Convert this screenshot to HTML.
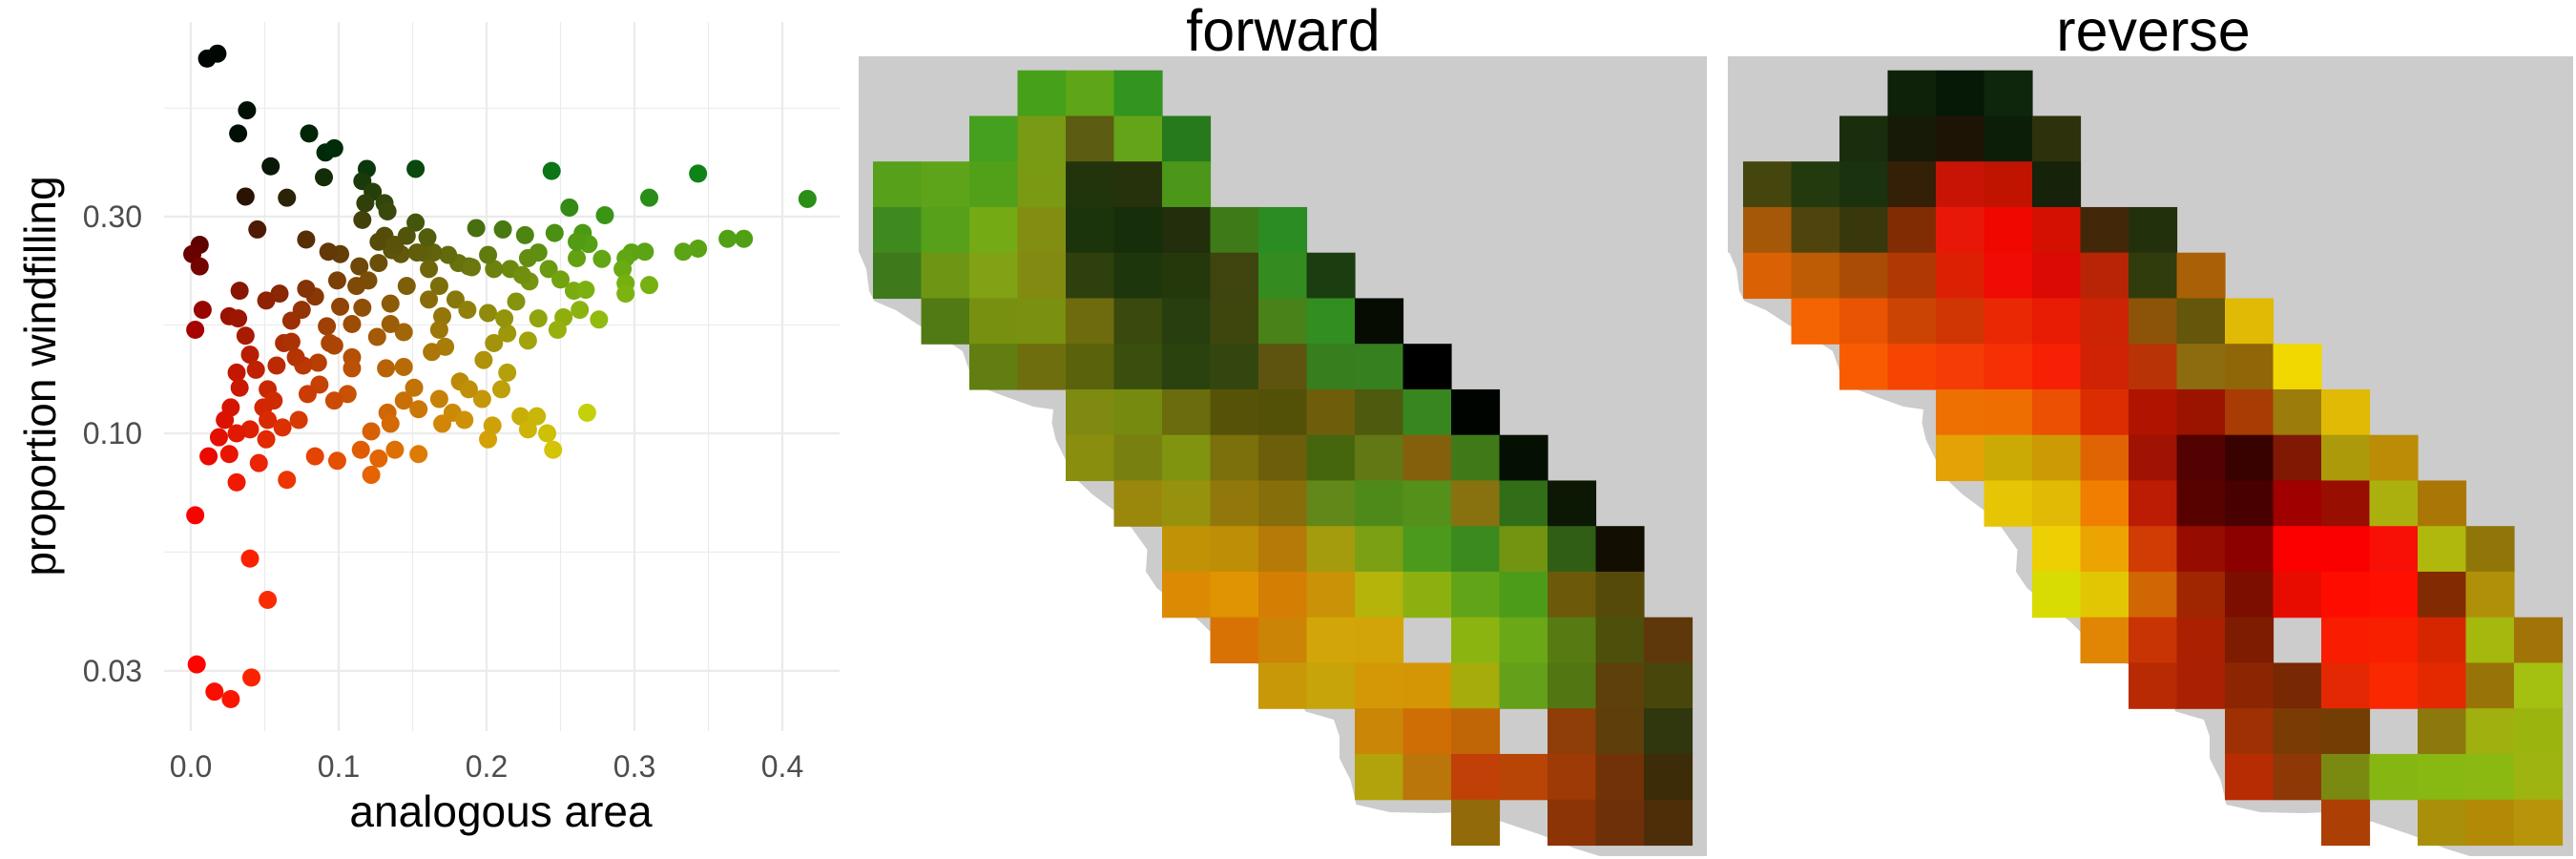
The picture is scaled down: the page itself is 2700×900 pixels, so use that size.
<!DOCTYPE html>
<html><head><meta charset="utf-8"><style>
html,body{margin:0;padding:0;background:#fff;}
svg{display:block;font-family:"Liberation Sans",Arial,sans-serif;}
</style></head><body>
<svg id="fig" width="2700" height="900" viewBox="0 0 2700 900" xmlns="http://www.w3.org/2000/svg">
<g id="scatter"></g>
<g id="fwd"></g>
<g id="rev"></g>
<text x="1345" y="53" font-size="61" text-anchor="middle" fill="#000">forward</text>
<text x="2257" y="53" font-size="61" text-anchor="middle" fill="#000">reverse</text>
<text x="525" y="866" font-size="46" text-anchor="middle" fill="#000">analogous area</text>
<text transform="translate(58,394) rotate(-90)" font-size="46" text-anchor="middle" fill="#000">proportion windfilling</text>
</svg>
<script>
const xTicks = [0, 0.1, 0.2, 0.3, 0.4];
const xTickLabels = ["0.0", "0.1", "0.2", "0.3", "0.4"];
const yTicks = [0.03, 0.1, 0.3];
const yTickLabels = ["0.03", "0.10", "0.30"];
const areaVals = [0.011,0.018,0.038,0.032,0.080,0.091,0.097,0.054,0.090,0.119,0.152,0.037,0.065,0.116,0.123,0.131,0.118,0.133,0.116,0.244,0.343,0.310,0.417,0.256,0.280,0.045,0.078,0.006,0.001,0.006,0.152,0.193,0.211,0.226,0.246,0.265,0.269,0.363,0.374,0.343,0.333,0.307,0.298,0.294,0.278,0.261,0.292,0.294,0.310,0.294,0.259,0.267,0.276,0.263,0.252,0.248,0.235,0.228,0.268,0.223,0.234,0.228,0.241,0.245,0.201,0.204,0.197,0.182,0.188,0.210,0.214,0.198,0.205,0.214,0.201,0.212,0.220,0.229,0.216,0.235,0.242,0.205,0.201,0.188,0.181,0.174,0.164,0.157,0.160,0.142,0.136,0.127,0.114,0.120,0.112,0.099,0.101,0.093,0.131,0.146,0.161,0.168,0.161,0.179,0.187,0.170,0.168,0.172,0.163,0.144,0.135,0.135,0.116,0.101,0.109,0.097,0.109,0.109,0.126,0.132,0.144,0.151,0.144,0.154,0.168,0.177,0.185,0.170,0.133,0.135,0.122,0.115,0.127,0.138,0.154,0.122,0.099,0.084,0.106,0.097,0.087,0.079,0.086,0.076,0.071,0.063,0.068,0.092,0.094,0.068,0.075,0.084,0.078,0.060,0.051,0.033,0.026,0.032,0.037,0.008,0.003,0.040,0.044,0.031,0.033,0.058,0.052,0.056,0.049,0.052,0.062,0.051,0.073,0.040,0.027,0.023,0.019,0.031,0.026,0.012,0.046,0.031,0.065,0.003,0.040,0.052,0.004,0.016,0.027,0.041,0.146,0.153,0.127,0.138,0.190,0.224,0.228,0.250,0.261];
const windVals = [0.668,0.685,0.514,0.457,0.457,0.415,0.424,0.387,0.366,0.382,0.382,0.332,0.330,0.359,0.340,0.321,0.321,0.308,0.295,0.378,0.373,0.330,0.328,0.314,0.302,0.281,0.267,0.260,0.248,0.233,0.291,0.283,0.281,0.273,0.276,0.276,0.261,0.268,0.268,0.255,0.251,0.251,0.250,0.243,0.242,0.243,0.230,0.214,0.212,0.203,0.206,0.207,0.178,0.187,0.180,0.169,0.179,0.160,0.111,0.109,0.109,0.102,0.100,0.092,0.097,0.104,0.119,0.130,0.125,0.125,0.136,0.145,0.158,0.166,0.184,0.179,0.195,0.216,0.230,0.250,0.230,0.230,0.247,0.233,0.237,0.247,0.250,0.250,0.270,0.248,0.253,0.237,0.233,0.217,0.211,0.217,0.248,0.251,0.272,0.272,0.230,0.211,0.197,0.197,0.187,0.181,0.169,0.155,0.151,0.167,0.174,0.193,0.189,0.190,0.174,0.156,0.147,0.139,0.163,0.139,0.140,0.126,0.118,0.113,0.119,0.111,0.107,0.105,0.111,0.105,0.101,0.092,0.088,0.092,0.090,0.081,0.087,0.089,0.122,0.118,0.128,0.122,0.143,0.141,0.147,0.158,0.159,0.172,0.158,0.177,0.187,0.200,0.208,0.203,0.196,0.206,0.181,0.179,0.164,0.187,0.169,0.149,0.138,0.136,0.126,0.141,0.125,0.118,0.114,0.107,0.103,0.097,0.107,0.102,0.114,0.107,0.098,0.100,0.090,0.089,0.086,0.078,0.079,0.066,0.053,0.043,0.031,0.027,0.026,0.029,0.211,0.250,0.264,0.260,0.232,0.223,0.243,0.218,0.264];

const fwdStart = [3,2,0,0,0,1,2,4,4,5,6,6,7,8,10,10,12];
const fwdColors = [
"47a01a 5ea618 33941f",
"44a01e 789a14 5c5c12 63a418 267a1c",
"56a01a 5ea41a 52a01a 7a9a14 22340c 26320c 4c961a",
"3e8a1e 56a01a 74aa14 828e12 1c340c 162e0a 222e0c 3e7a18 2a8c22",
"3e7a1c 6e9614 80a214 828a12 2e400c 1e360c 24380c 40440e 348c20 1a3e10",
"527a14 78900f 7a9010 6e6a0e 3a4a0e 283e0e 3e460e 488218 328e20 060c02",
"627e10 6e6e0e 5a620c 3a4e0e 2a420e 344610 5e5410 367e1e 368020 000000",
"7e8a10 768a10 6a6c0e 565208 535008 6e5e0c 4e5a0e 388620 000400",
"8a8e0e 788010 809410 7a700c 6c5e0a 46660e 627814 84600c 407a18 061002",
"9a880c 96920e 92780a 866e0a 62881a 4e8a1a 54901a 887210 326e18 0c1804",
"c29206 be8e06 b67a08 a49c0c 7ca014 4c9a1c 3a8a1e 729410 305e14 120e02",
"dc8a04 e09402 d47e04 ca9206 b4b40a 8cb010 62a418 4c9c1a 6c5a0a 564a0a",
"d87204 cc8406 d2a608 d2a408 . 8cb410 6aa818 587a12 4c500a 5e380a",
"c89808 c6a40a d49806 d49604 a6ac0c 64a01a 527612 5e400a 48460a",
"ca8606 ce6e04 c06606 . 8e3e06 5e3e0a 30360e",
"b2a20c ba760a c04008 b84406 9e3a06 703206 3c2c08",
"926a0a . 8c3406 6e3008 4e2e08"];
const revStart = [3,2,0,0,0,1,2,4,4,5,6,6,7,8,10,10,12];
const revColors = [
"0e220a 061806 0e260c",
"1a2e0e 161a06 1e1406 0c1e08 2e320c",
"44460e 223a0e 1a320e 342006 c81404 c01400 16220a",
"a45808 50440e 38380c 822c04 e81808 f00800 d41000 422808 22300c",
"da6204 be5c06 aa4c06 b03804 dc2004 f00c04 dc0a04 b82406 303c0c aa6006",
"f46402 e85404 cc4404 d03604 ea2804 e81c04 cc2404 8c5408 64560a e0ba04",
"f85c02 f64402 f43c04 f63004 f82004 d02204 b83406 8c6c0e 906608 f0d800",
"ee7002 ee6e02 ec5002 dc2c02 b01400 9a1400 a83c04 9c7c0a e0ba04",
"e4a206 ccaa06 cc9a04 e06404 a01202 520200 380200 801804 ac9a0a bc8c06",
"e6c604 e0ba04 f07e00 bc1c04 580200 480000 a00000 980e00 acb00e aa7606",
"ecd004 eca402 d03c04 960c00 8c0000 fc0000 fa0000 f81006 b0b80e 907608",
"d8dc02 e2c604 d06604 a02602 7c0e00 e80c00 ff0c00 ff1000 822a02 b09008",
"e08604 c83404 aa2000 7e1c02 . f81c00 f81e00 d62600 a4b80e a07408",
"b82a04 aa2002 8c2602 782802 e42804 fa2800 e42800 987408 a4c010",
"9e3004 7a3c04 723e04 . 8c780c a0b00e 9cb40e",
"b82c04 8e3806 7a8a10 86b612 88b812 8cb812 9eb410",
"ac4004 . aa900a b28a06 b8940a"];

const NS = "http://www.w3.org/2000/svg";
function mk(tag, attrs, parent) {
  const e = document.createElementNS(NS, tag);
  for (const k in attrs) e.setAttribute(k, attrs[k]);
  parent.appendChild(e);
  return e;
}
// scatter scales
const xs = v => 200 + v * 1550;
const ys = v => 454 - (Math.log10(v) + 1) * 476;
const PX0 = 172, PX1 = 880, PY0 = 23, PY1 = 766;
const sc = document.getElementById('scatter');
// minor grid
const minorX = [0.05, 0.15, 0.25, 0.35];
minorX.forEach(v => {
  const l = mk('line', {x1: xs(v), x2: xs(v), y1: PY0, y2: PY1, stroke: '#ebebeb', 'stroke-width': 1.2}, sc);
  
  
});
const majLog = yTicks.map(v => Math.log10(v));
const minorYPix = [ys(yTicks[2]) - (ys(yTicks[1]) - ys(yTicks[2])) / 2, (ys(yTicks[1]) + ys(yTicks[2])) / 2, (ys(yTicks[0]) + ys(yTicks[1])) / 2];
minorYPix.forEach(p => {
  const l = mk('line', {x1: PX0, x2: PX1, y1: p, y2: p, stroke: '#ebebeb', 'stroke-width': 1.2}, sc);
  
  
});
xTicks.forEach((v, i) => {
  const l = mk('line', {x1: xs(v), x2: xs(v), y1: PY0, y2: PY1, stroke: '#ebebeb', 'stroke-width': 2.3}, sc);
  
  
  const t = mk('text', {x: xs(v), y: 814, 'font-size': 32, 'text-anchor': 'middle', fill: '#4d4d4d'}, sc);
  t.textContent = xTickLabels[i];
  
  
});
yTicks.forEach((v, i) => {
  const l = mk('line', {x1: PX0, x2: PX1, y1: ys(v), y2: ys(v), stroke: '#ebebeb', 'stroke-width': 2.3}, sc);
  
  
  const t = mk('text', {x: 149, y: ys(v) + 11, 'font-size': 32, 'text-anchor': 'end', fill: '#4d4d4d'}, sc);
  t.textContent = yTickLabels[i];
  
  
});
function ptColor(x, y) {
  let a = (Math.log10(y) - Math.log10(0.05)) / (Math.log10(0.4) - Math.log10(0.05));
  a = Math.max(0, Math.min(1, a));
  const tx = Math.max(0, Math.min(1, x / 0.27));
  const r = Math.round(255 * (1 - a * a) * (1 - 0.1 * tx));
  const g = Math.round(225 * tx * (1 - 0.45 * a * a));
  const b = Math.round(25 * a * tx);
  return `rgb(${r},${g},${b})`;
}
areaVals.forEach((x, i) => {
  const y = windVals[i];
  const c = mk('circle', {cx: xs(x), cy: ys(y), r: 9.5, fill: ptColor(x, y)}, sc);
  
  
});

// maps
const coast = [[900.6,264.8],[908,282],[911,305],[916.5,315.5],[939,325],[962,340],[992,357],[1009,368],[1021,403],[1051,414.5],[1083,426],[1104,429],[1102.5,443],[1106.6,460.6],[1115,478],[1127,501],[1145,518],[1168,535],[1186,553],[1202.5,576],[1201,599],[1212.5,616],[1233,633],[1257,650.5],[1292,685],[1321,697],[1351,714],[1368.5,745.5],[1398,754],[1404,771.5],[1404,794.5],[1415.6,817.5],[1421.5,843],[1457,851],[1504,852],[1527,851],[1574.5,861],[1616,875],[1651,889],[1680,898]];
function drawMap(gid, dx, starts, colors, grayL, grayR) {
  const g = document.getElementById(gid);
  const bg = mk('rect', {x: grayL, y: 59, width: grayR - grayL, height: 838, fill: '#cccccc'}, g);
  
  
  const pts = coast.map(p => (p[0] + dx) + ',' + p[1]).join(' ') + ' ' + (1690 + dx) + ',900 ' + (grayL - 1) + ',900 ' + (grayL - 1) + ',264.8';
  const sea = mk('polygon', {points: pts, fill: '#ffffff'}, g);
  
  
  const col0 = 915 + dx, cw = 50.5, row0 = 73.7, rh = 47.75;
  colors.forEach((rowStr, r) => {
    rowStr.split(' ').forEach((hex, k) => {
      if (hex === '.') return;
      const c = starts[r] + k;
      const cell = mk('rect', {x: col0 + c * cw, y: row0 + r * rh, width: cw + 0.6, height: rh + 0.6, fill: '#' + hex}, g);
      
      
    });
  });
}
drawMap('fwd', 0, fwdStart, fwdColors, 900, 1789);
drawMap('rev', 912, revStart, revColors, 1811, 2697);
</script>
</body></html>
